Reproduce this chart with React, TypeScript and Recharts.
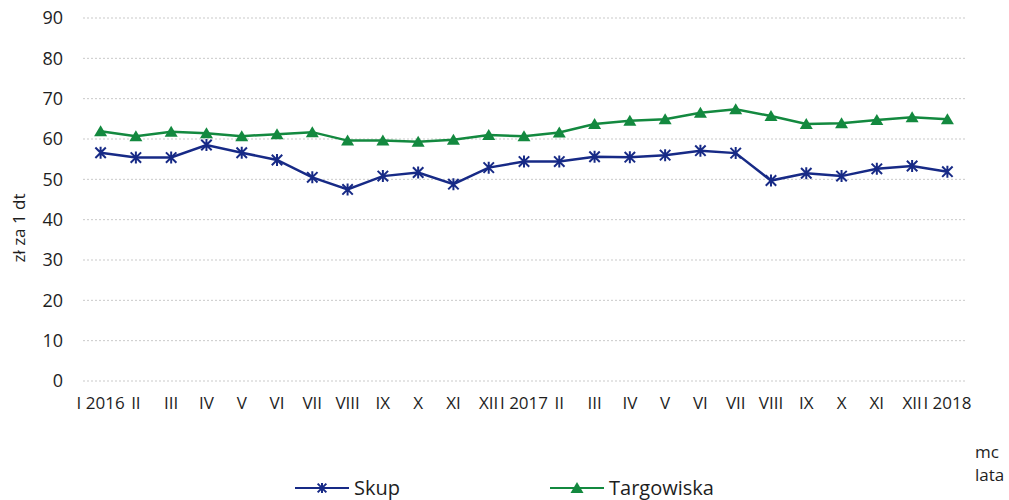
import { LineChart, Line, XAxis, YAxis, CartesianGrid, Legend } from "recharts";

// monthly prices, zł per 1 dt
const months = [
  "I 2016", "II", "III", "IV", "V", "VI", "VII", "VIII", "IX", "X", "XI", "XII",
  "I 2017", "II", "III", "IV", "V", "VI", "VII", "VIII", "IX", "X", "XI", "XII",
  "I 2018",
];
const skup = [
  56.6, 55.4, 55.4, 58.5, 56.6, 54.8, 50.5, 47.5, 50.8, 51.7, 48.8, 52.9,
  54.4, 54.4, 55.6, 55.5, 56.0, 57.1, 56.5, 49.7, 51.5, 50.8, 52.6, 53.3,
  51.9,
];
const targowiska = [
  61.9, 60.7, 61.8, 61.4, 60.7, 61.2, 61.7, 59.6, 59.6, 59.3, 59.8, 61.0,
  60.7, 61.6, 63.7, 64.5, 64.9, 66.5, 67.4, 65.7, 63.7, 63.9, 64.7, 65.4,
  64.9,
];
const yTicks = [0, 10, 20, 30, 40, 50, 60, 70, 80, 90];

const data = months.map((m, i) => ({
  id: i,
  month: m,
  skup: skup[i],
  targowiska: targowiska[i],
}));

const NAVY = "#172a86";
const GREEN = "#13893f";
const FONT = "'Open Sans', sans-serif";
const TEXT = "#1e1e1e";

const StarDot = ({ cx, cy, size = 6 }: { cx?: number; cy?: number; size?: number }) => {
  if (cx == null || cy == null) return null;
  const d = size * 0.87;
  return (
    <path
      d={`M${cx - d},${cy - d}L${cx + d},${cy + d}M${cx - d},${cy + d}L${cx + d},${cy - d}M${cx},${cy - size}L${cx},${cy + size}`}
      stroke={NAVY}
      strokeWidth={2}
      fill="none"
    />
  );
};

const TriangleDot = ({ cx, cy }: { cx?: number; cy?: number }) => {
  if (cx == null || cy == null) return null;
  return (
    <polygon
      points={`${cx},${cy - 6} ${cx + 6.5},${cy + 5} ${cx - 6.5},${cy + 5}`}
      fill={GREEN}
    />
  );
};

const LegendContent = () => (
  <div
    style={{
      display: "flex",
      justifyContent: "center",
      gap: 150,
      fontFamily: FONT,
      fontSize: 20,
      color: TEXT,
    }}
  >
    <div style={{ display: "flex", alignItems: "center", gap: 5 }}>
      <svg width={54} height={16}>
        <line x1={0} y1={8} x2={54} y2={8} stroke={NAVY} strokeWidth={2} />
        <StarDot cx={27} cy={8} size={5} />
      </svg>
      <span>Skup</span>
    </div>
    <div style={{ display: "flex", alignItems: "center", gap: 5 }}>
      <svg width={54} height={16}>
        <line x1={0} y1={8} x2={54} y2={8} stroke={GREEN} strokeWidth={2} />
        <TriangleDot cx={27} cy={8} />
      </svg>
      <span>Targowiska</span>
    </div>
  </div>
);

const App = () => {
  return (
    <div style={{ position: "absolute", left: 0, top: 0, width: 1009, height: 500, background: "#fff" }}>
      <LineChart
        width={1009}
        height={500}
        data={data}
        margin={{ top: 18, right: 44, left: 0, bottom: 79 }}
      >
        <CartesianGrid vertical={false} stroke="#c9c9c9" strokeDasharray="2 2" />
        <XAxis
          dataKey="id"
          tickFormatter={(i: number) => months[i]}
          interval={0}
          height={40}
          padding={{ left: 17.6, right: 17.6 }}
          axisLine={false}
          tickLine={false}
          tickMargin={10}
          tick={{ fontFamily: FONT, fontSize: 17, fill: TEXT }}
        />
        <YAxis
          domain={[0, 90]}
          ticks={yTicks}
          width={83}
          axisLine={false}
          tickLine={false}
          tickMargin={14}
          tick={{ fontFamily: FONT, fontSize: 18, fill: TEXT }}
          label={{
            content: () => (
              <text
                x={18}
                y={228}
                transform="rotate(-90 18 228)"
                textAnchor="middle"
                dominantBaseline="central"
                fontFamily={FONT}
                fontSize={17}
                fill={TEXT}
              >
                zł za 1 dt
              </text>
            ),
          }}
        />
        <Legend
          verticalAlign="middle"
          content={<LegendContent />}
          wrapperStyle={{ top: 474, left: 0, width: 1009 }}
        />
        <Line
          type="linear"
          dataKey="skup"
          name="Skup"
          stroke={NAVY}
          strokeWidth={2.5}
          dot={<StarDot />}
          activeDot={false}
          isAnimationActive={false}
        />
        <Line
          type="linear"
          dataKey="targowiska"
          name="Targowiska"
          stroke={GREEN}
          strokeWidth={2.5}
          dot={<TriangleDot />}
          activeDot={false}
          isAnimationActive={false}
        />
      </LineChart>
      <div
        style={{
          position: "absolute",
          left: 975,
          top: 440,
          fontFamily: FONT,
          fontSize: 17,
          lineHeight: "23px",
          color: TEXT,
        }}
      >
        mc
        <br />
        lata
      </div>
    </div>
  );
};

export default App;
